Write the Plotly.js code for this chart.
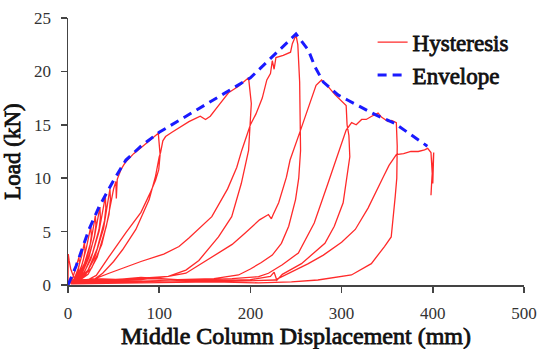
<!DOCTYPE html>
<html>
<head>
<meta charset="utf-8">
<script src="https://cdn.plot.ly/plotly-3.0.1.min.js"></script>
<style>
html,body{margin:0;padding:0;background:#fff;}
#chart{width:537px;height:349px;}
#chart text{font-family:'Liberation Serif','Times New Roman',serif !important;}
#chart .legendtext, #chart .xtitle, #chart .ytitle{stroke:#111;stroke-width:0.8px;}
</style>
</head>
<body>
<div id="chart"></div>
<script>
// ---- Hysteresis path segments (displacement mm, load kN) ----
const originX = [0, 0.3, 1.2, 3, 6, 9, 5, 2];
const originY = [0, 2.9, 2.3, 1.5, 0.8, 0.5, 0.3, 0.2];

const s1X = [2, 5, 8, 10, 12, 12.6, 11, 8, 5, 3];
const s1Y = [0.2, 0.6, 1.4, 2.0, 2.6, 2.0, 1.3, 0.6, 0.3, 0.2];
const s2X = [3, 7, 11, 15, 18, 18.6, 17, 13, 8, 4];
const s2Y = [0.2, 0.6, 1.5, 2.7, 4.0, 3.2, 2.4, 1.3, 0.5, 0.2];
const s3X = [4, 9, 15, 20, 25, 25.6, 24, 19, 12, 6];
const s3Y = [0.3, 0.7, 1.8, 3.4, 5.5, 4.6, 3.6, 2.0, 0.8, 0.3];
const s4X = [5, 11, 18, 25, 30, 30.6, 29, 23, 15, 7];
const s4Y = [0.3, 0.8, 2.0, 4.0, 6.5, 5.6, 4.6, 2.6, 1.0, 0.3];
const s5X = [6, 13, 21, 29, 35, 35.5, 34, 27, 18, 9];
const s5Y = [0.3, 0.8, 2.2, 4.5, 7.3, 6.3, 5.2, 3.0, 1.2, 0.4];
const s6X = [8, 16, 25, 34, 41, 41.5, 40, 32, 22, 11];
const s6Y = [0.3, 0.9, 2.4, 5.0, 8.3, 7.2, 6.0, 3.4, 1.4, 0.4];
const s7X = [10, 19, 29, 39, 46, 46.5, 45, 37, 26, 13];
const s7Y = [0.3, 0.9, 2.5, 5.3, 9.0, 8.0, 6.6, 3.8, 1.6, 0.5];

const load100X = [12, 22, 32, 42, 50, 52.5, 53, 54, 58, 63, 72, 82, 92, 99];
const load100Y = [0.4, 1.0, 2.6, 5.5, 9.0, 9.7, 8.1, 9.9, 10.8, 11.5, 12.3, 13.0, 13.7, 14.2];
const unload100X = [101, 99.5, 96, 90, 80, 63.5, 45, 31, 20, 12, 6, 2];
const unload100Y = [12.2, 10.8, 9.8, 8.6, 6.8, 4.9, 2.65, 0.9, 0.4, 0.3, 0.4, 0.2];

const load200X = [8, 20, 30, 38, 50, 59.8, 74.4, 89, 96, 100, 101.5, 104, 107, 114, 121.7, 132.6, 140, 145, 150.8, 156, 165, 176, 187, 198];
const load200Y = [0.2, 0.4, 0.6, 1.1, 2.2, 3.3, 5.2, 8.0, 10.2, 12.0, 12.4, 13.5, 13.9, 14.3, 14.7, 15.3, 15.6, 15.8, 15.5, 15.8, 16.8, 18.0, 18.6, 19.4];
const unload200X = [201, 200, 198, 190, 179.5, 165, 143.5, 129.3, 110, 80, 50, 30, 15, 4];
const unload200Y = [17.0, 15.5, 12.6, 9.5, 6.4, 4.5, 2.3, 1.4, 0.8, 0.5, 0.4, 0.5, 0.3, 0.2];

const load250X = [6, 27, 45, 80, 105, 121.7, 132.6, 157.7, 175, 185, 190.5, 200, 206, 213, 218, 222, 224, 226, 228, 236, 244, 246, 250];
const load250Y = [0.2, 0.5, 1.1, 2.2, 2.9, 3.6, 4.4, 6.4, 9.0, 11.0, 12.6, 15.0, 16.0, 17.5, 19.2, 19.8, 21.0, 20.2, 21.3, 21.5, 21.8, 22.6, 23.4];
const unload250X = [252, 254, 255, 255, 253, 249.5, 242, 234, 224, 212, 200, 187, 160, 120, 90, 60, 30, 10, 3];
const unload250Y = [22.5, 19, 15, 12.6, 10, 8.0, 5.5, 3.9, 2.8, 2.1, 1.5, 0.94, 0.6, 0.5, 0.6, 0.5, 0.6, 0.4, 0.2];

const load305X = [5, 40, 80, 110, 129.3, 157.7, 180, 194.6, 210, 219.8, 223, 225, 231, 239.5, 243.5, 255, 265, 272, 278, 285, 293, 303.5];
const load305Y = [0.2, 0.4, 0.6, 0.8, 1.1, 2.6, 3.8, 4.9, 6.1, 6.6, 6.2, 6.6, 7.7, 10.1, 11.7, 14.5, 17.0, 18.7, 19.2, 18.6, 17.8, 17.0];
const unload305X = [305, 306, 308, 309, 307, 301.7, 292, 281.7, 256, 235, 229, 226, 222, 200, 160, 120, 80, 40, 10, 3];
const unload305Y = [16.8, 15.0, 14.0, 12.0, 10.8, 7.7, 5.5, 3.9, 2.0, 1.0, 0.45, 1.2, 0.8, 0.5, 0.4, 0.5, 0.7, 0.4, 0.5, 0.2];

const load360X = [5, 60, 120, 180, 209, 219.8, 235, 252.6, 270, 285, 297, 305, 311, 316, 322, 327, 333, 340, 344, 347, 351, 355, 360];
const load360Y = [0.2, 0.3, 0.4, 0.6, 0.78, 1.1, 1.9, 3.0, 5.8, 9.5, 12.5, 14.5, 15.2, 15.0, 15.5, 15.5, 15.8, 16.1, 15.7, 15.5, 15.3, 15.4, 15.2];
const unload360X = [361, 361, 360.5, 358.8, 356, 354.4, 347, 332.6, 310.8, 274, 245, 209, 160, 100, 50, 10, 3];
const unload360Y = [13.0, 11.0, 10.0, 8.3, 5.8, 4.5, 3.6, 2.0, 0.94, 0.47, 0.3, 0.2, 0.3, 0.4, 0.3, 0.3, 0.1];

const load400X = [5, 80, 160, 227, 263.5, 280, 300, 315, 329, 345, 352, 360, 368, 376, 384, 391, 394.4, 398, 399, 400, 401, 400, 399, 398];
const load400Y = [0.1, 0.2, 0.3, 0.47, 2.0, 2.8, 4.0, 5.2, 7.2, 10.0, 11.2, 12.2, 12.3, 12.5, 12.5, 12.65, 12.8, 12.4, 10.5, 9.5, 12.4, 11.5, 10.0, 8.4];

// ---- Envelope ----
const envX = [0, 9, 23, 34, 50, 63.5, 80, 96, 100, 200, 250, 263.5, 271, 280, 296, 307, 338, 358, 394];
const envY = [0, 1.8, 5.2, 7.3, 9.8, 11.7, 13.0, 14.1, 14.3, 19.4, 23.5, 22.0, 20.4, 19.0, 17.8, 17.3, 15.9, 15.15, 13.0];

// ---- Axes ----
const xTicks = [0, 100, 200, 300, 400, 500];
const yTicks = [0, 5, 10, 15, 20, 25];

const segsX = [originX, s1X, s2X, s3X, s4X, s5X, s6X, s7X, load100X, unload100X, load200X, unload200X, load250X, unload250X, load305X, unload305X, load360X, unload360X, load400X];
const segsY = [originY, s1Y, s2Y, s3Y, s4Y, s5Y, s6Y, s7Y, load100Y, unload100Y, load200Y, unload200Y, load250Y, unload250Y, load305Y, unload305Y, load360Y, unload360Y, load400Y];
const hystX = [].concat(...segsX);
const hystY = [].concat(...segsY);

const fam = 'Liberation Serif';

const traces = [
  {
    x: hystX, y: hystY, type: 'scatter', mode: 'lines', name: 'Hysteresis',
    legendgroup: 'a',
    line: {color: '#ff2a2a', width: 1.3}
  },
  {
    x: envX, y: envY, type: 'scatter', mode: 'lines', name: 'Envelope',
    legendgroup: 'b',
    line: {color: '#1a1aff', width: 3, dash: '9px,6px'}
  }
];

const layout = {
  width: 537, height: 349,
  margin: {l: 68, r: 13, t: 18, b: 64},
  paper_bgcolor: '#fff', plot_bgcolor: '#fff',
  font: {family: fam, size: 17, color: '#333'},
  showlegend: true,
  legend: {
    x: 0.668, y: 0.99, xanchor: 'left', yanchor: 'top',
    bgcolor: 'rgba(0,0,0,0)', tracegroupgap: 0,
    font: {family: fam, size: 23, color: '#111'}
  },
  xaxis: {
    range: [0, 500], tickvals: xTicks, ticktext: xTicks.map(String),
    showgrid: false, zeroline: false,
    showline: true, linecolor: '#444', linewidth: 1.5,
    ticks: 'outside', ticklen: 6, tickcolor: '#444', tickwidth: 1.5,
    ticklabelstandoff: 6, ticklabeloverflow: 'allow',
    tickfont: {family: fam, size: 17, color: '#333'},
    title: {text: 'Middle Column Displacement (mm)', standoff: 5,
            font: {family: fam, size: 24, color: '#111'}},
    automargin: false, fixedrange: true
  },
  yaxis: {
    range: [0, 25], tickvals: yTicks, ticktext: yTicks.map(String),
    showgrid: false, zeroline: false,
    showline: true, linecolor: '#444', linewidth: 1.5,
    ticks: 'outside', ticklen: 6, tickcolor: '#444', tickwidth: 1.5,
    ticklabelstandoff: 6, ticklabeloverflow: 'allow',
    tickfont: {family: fam, size: 17, color: '#333'},
    title: {text: 'Load (kN)', standoff: 12,
            font: {family: fam, size: 23, color: '#111'}},
    automargin: false, fixedrange: true
  }
};

Plotly.newPlot('chart', traces, layout, {staticPlot: true, displayModeBar: false});
</script>
</body>
</html>
